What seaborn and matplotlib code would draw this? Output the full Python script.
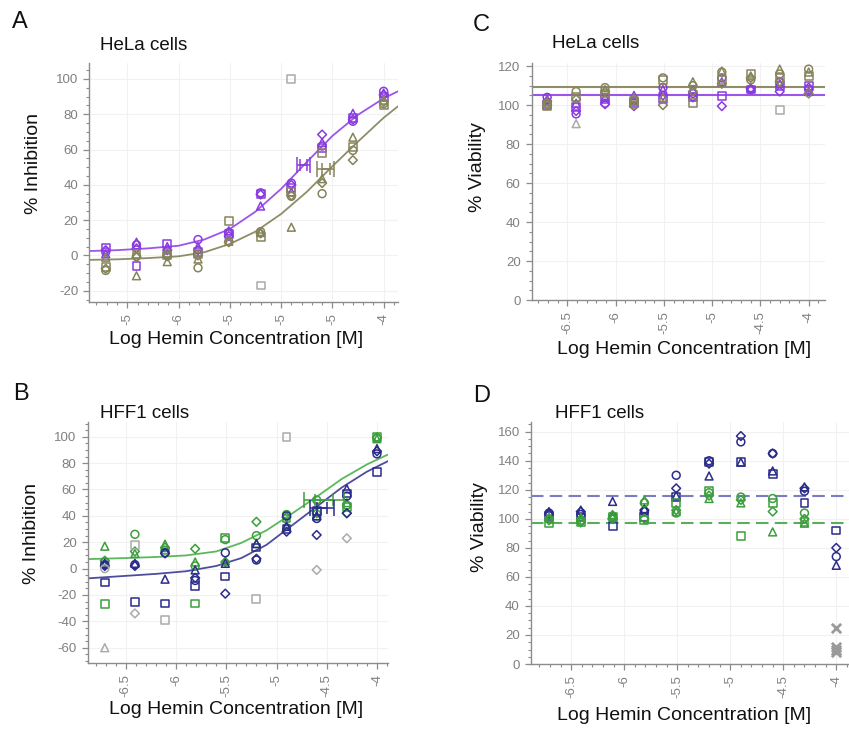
import numpy as np
import seaborn as sns
import matplotlib.pyplot as plt
from matplotlib.ticker import AutoMinorLocator

nan = np.nan

# log10 hemin concentration (2-fold dilution, 100 uM top)
conc = [-6.71, -6.41, -6.11, -5.81, -5.51, -5.20, -4.90, -4.60, -4.30, -4.00]
rep_markers = ["o", "s", "D", "^"]

# ---- A: HeLa % inhibition ----
a_pur_o = [2, 6, 0, 9, 13, 35.5, 41, 62, 76, 93]
a_pur_s = [4.5, -6, 6.5, 2, 12, 35, 38, 61, 78, 90]
a_pur_d = [3, 4, 3, 3, 11, 34.5, 40, 68.5, 77, 91]
a_pur_t = [1, 7.5, 5, 5, 14, 28, 36, 64, 80.5, 92]
a_oli_o = [-8.5, -0.5, 1, -7, 8, 13.5, 33.5, 35, 59.5, 86]
a_oli_s = [-6.5, 1, 0, 1, 19.5, 10.5, 36, 58, 61.5, 85]
a_oli_d = [-7.5, -1, -0.5, 0, 7.5, 12.5, 34, 41, 54, 87]
a_oli_t = [-1, -11.5, -3.5, -2, 8, 13, 16, 43.5, 67, 88]
a_out_x = [-5.20, -4.90]
a_out_y = [-17, 100]
a_out_m = ["s", "s"]
a_curve_x = [-6.87, -6.6, -6.3, -6.0, -5.75, -5.5, -5.25, -5.0, -4.75, -4.5, -4.25, -4.0, -3.86]
a_curve_pur = [2.5, 3.0, 4.0, 5.5, 9.0, 15.0, 24.8, 37.7, 52.9, 67.7, 79.7, 89.0, 93.0]
a_curve_oli = [-2.5, -2.2, -1.5, -0.5, 1.8, 6.5, 13.5, 23.5, 36, 50.5, 64.5, 78, 84.5]
a_ic50_pur = (-4.78, 51)
a_ic50_oli = (-4.565, 49)
a_xticklabels = ["-5", "-6", "-5", "-5", "-5", "-4"]

# ---- C: HeLa % viability ----
c_pur_o = [104, 95.5, 101, 102, 109, 106, 114, 108, 112, 108]
c_pur_s = [100, 99, 103, 101, 103, 104, 104.5, 108, 110, 110]
c_pur_d = [102, 97, 100.5, 99.5, 105, 104, 99.5, 108.5, 107, 109]
c_pur_t = [103, 101, 104, 105, 108, 108, 112, 109, 111, 107]
c_oli_o = [101, 107, 109, 100, 114, 110, 117, 113, 116, 118.5]
c_oli_s = [99.5, 104, 106, 102, 113, 101, 113, 116, 114, 115]
c_oli_d = [100, 103, 107, 103, 100, 107, 111, 114, 112, 106]
c_oli_t = [102, nan, 108, 104, 104, 112, 117.5, 115, 118.5, 117]
c_out_x = [-6.41, -4.30]
c_out_y = [90.5, 97.5]
c_out_m = ["^", "s"]
c_mean_pur = 105.4
c_mean_oli = 109.4

# ---- B: HFF1 % inhibition ----
b_grn_o = [5, 26, 14, 2, 22, 25, 41, 52, 48, 99]
b_grn_s = [-27, nan, nan, -26.5, 23, nan, 38, 43, 47, 100]
b_grn_d = [6, 13, 16, 15, 5, 35.5, 39, 42, 42, 99.5]
b_grn_t = [17, 11.5, 18.5, 5, 6, 19, 33, 40, 50, 98.5]
b_nav_o = [3, 3, 12, -9, 12, 6.5, 40, 38, 55, 87]
b_nav_s = [-10.5, -25, -26.5, -13, -6, 16, 30, 44, 57, 73]
b_nav_d = [2, 2, 11.5, -7, -19, 7.5, 28, 25.5, 42, 89]
b_nav_t = [4, 4, -8, -1, 4, 19, 32, 40, 60.5, 91]
b_out_x = [-6.71, -6.71, -6.41, -6.41, -6.11, -5.20, -4.90, -4.60, -4.30]
b_out_y = [0, -60, 18, -34, -39, -23, 100, -1, 23]
b_out_m = ["o", "^", "s", "D", "s", "s", "s", "D", "D"]
b_curve_x = [-6.88, -6.5, -6.2, -5.9, -5.6, -5.35, -5.1, -4.85, -4.6, -4.35, -4.1, -3.89]
b_curve_grn = [7.2, 8.0, 8.8, 10.0, 13.0, 19.5, 29.0, 41.5, 54.5, 68.0, 79.0, 86.5]
b_curve_nav = [-7.4, -5.5, -4.0, -2.0, 2.0, 8.0, 18.0, 32.5, 47.0, 61.5, 73.5, 81.5]
b_ic50_grn = (-4.53, 52)
b_ic50_nav = (-4.545, 45.6)

# ---- D: HFF1 % viability ----
d_nav_o = [104, 103, 101, 105, 130, 140, 153, 145, 119, 74]
d_nav_s = [102, 101, 95, 101, 115, 139, 139, 131, 111, 92]
d_nav_d = [103, 105, 100, 106, 121, 138, 157, 145, 121, 80]
d_nav_t = [105, 106, 112, 107, 116, 129.5, 139, 133, 122, 68]
d_grn_o = [100, 99, 102, 111, 104, 118, 115, 114, 104, nan]
d_grn_s = [97, 98, 101, 99, 111, 119, 88, 111, 98, nan]
d_grn_d = [99, 97.5, 100, 100, 106, 116, 113, 105, 100, nan]
d_grn_t = [101, 101, 103, 113, 105, 114, 111, 91, 97, nan]
d_out_x = [-4.0, -4.0, -4.0, -4.0]
d_out_y = [25, 12, 10, 8]
d_mean_nav = 115.5
d_mean_grn = 96.8

xticks = [-6.5, -6, -5.5, -5, -4.5, -4]
xticklabels = ["-6.5", "-6", "-5.5", "-5", "-4.5", "-4"]

PUR = "#8a3be0"
OLI = "#85845a"
NAV = "#2b2b8c"
GRN = "#3c9e3c"
GRY = "#aaaaaa"

sns.set_style("white")
plt.rcParams["font.family"] = ["Liberation Sans", "DejaVu Sans"]
plt.rcParams["axes.unicode_minus"] = False

fig = plt.figure(figsize=(8.49, 7.33), dpi=100)
axA = fig.add_axes([0.1052, 0.5884, 0.3636, 0.3256])
axC = fig.add_axes([0.6263, 0.5907, 0.3455, 0.3230])
axB = fig.add_axes([0.1033, 0.0951, 0.3537, 0.3296])
axD = fig.add_axes([0.6254, 0.0941, 0.3746, 0.3306])


def reps(ax, series, color):
    for vals, m in zip(series, rep_markers):
        s = 20 if m == "D" else 32
        sns.scatterplot(x=conc, y=vals, marker=m, s=s, facecolor="none",
                        edgecolor=color, linewidth=1.1, ax=ax, legend=False, zorder=3)


def outliers(ax, xs, ys, ms):
    for x, y, m in zip(xs, ys, ms):
        s = 20 if m == "D" else 32
        sns.scatterplot(x=[x], y=[y], marker=m, s=s, facecolor="none",
                        edgecolor=GRY, linewidth=1.1, ax=ax, legend=False, zorder=3)


def ic50(ax, pt, outer, inner, color):
    ax.errorbar(pt[0], pt[1], xerr=outer, color=color, capsize=6, lw=1.1, capthick=1.1, zorder=4)
    ax.errorbar(pt[0], pt[1], xerr=inner, color=color, capsize=4, lw=1.1, capthick=1.1, zorder=4)


def style(ax, xlim, ylim, yticks, xlabels):
    ax.set_xlim(*xlim)
    ax.set_ylim(*ylim)
    ax.set_xticks(xticks)
    ax.set_xticklabels(xlabels, rotation=90)
    ax.set_yticks(yticks)
    ax.xaxis.set_minor_locator(AutoMinorLocator(5))
    ax.yaxis.set_minor_locator(AutoMinorLocator(4))
    ax.grid(True, which="major", color="#f1f1f1", lw=0.8, zorder=0)
    ax.set_axisbelow(True)
    for side in ["top", "right"]:
        ax.spines[side].set_visible(False)
    for side in ["left", "bottom"]:
        ax.spines[side].set_color("#8c8c8c")
        ax.spines[side].set_linewidth(1.0)
    ax.tick_params(which="major", direction="out", length=4, width=0.9,
                   color="#8c8c8c", labelcolor="#808080", labelsize=9.5, pad=4)
    ax.tick_params(which="minor", direction="out", length=2.5, width=0.8, color="#8c8c8c")
    ax.tick_params(axis="x", which="both", bottom=True)
    ax.tick_params(axis="y", which="both", left=True)
    ax.set_xlabel("")
    ax.set_ylabel("")


# A
reps(axA, [a_pur_o, a_pur_s, a_pur_d, a_pur_t], PUR)
reps(axA, [a_oli_o, a_oli_s, a_oli_d, a_oli_t], OLI)
outliers(axA, a_out_x, a_out_y, a_out_m)
sns.lineplot(x=a_curve_x, y=a_curve_pur, color="#9b55ea", lw=1.3, ax=axA, zorder=2)
sns.lineplot(x=a_curve_x, y=a_curve_oli, color="#8f8d68", lw=1.3, ax=axA, zorder=2)
ic50(axA, a_ic50_pur, 0.065, 0.032, PUR)
ic50(axA, a_ic50_oli, 0.085, 0.04, OLI)
style(axA, (-6.87, -3.86), (-26.2, 109), range(-20, 101, 20), a_xticklabels)

# C
reps(axC, [c_pur_o, c_pur_s, c_pur_d, c_pur_t], PUR)
reps(axC, [c_oli_o, c_oli_s, c_oli_d, c_oli_t], OLI)
outliers(axC, c_out_x, c_out_y, c_out_m)
axC.axhline(c_mean_oli, color="#8f8d68", lw=1.5, zorder=2)
axC.axhline(c_mean_pur, color="#9b55ea", lw=1.5, zorder=2)
style(axC, (-6.87, -3.83), (0, 121.5), range(0, 121, 20), xticklabels)

# B
reps(axB, [b_grn_o, b_grn_s, b_grn_d, b_grn_t], GRN)
reps(axB, [b_nav_o, b_nav_s, b_nav_d, b_nav_t], NAV)
outliers(axB, b_out_x, b_out_y, b_out_m)
sns.lineplot(x=b_curve_x, y=b_curve_grn, color="#5cb85c", lw=1.3, ax=axB, zorder=2)
sns.lineplot(x=b_curve_x, y=b_curve_nav, color="#4d4d9e", lw=1.3, ax=axB, zorder=2)
ic50(axB, b_ic50_grn, 0.2, 0.09, GRN)
ic50(axB, b_ic50_nav, 0.12, 0.05, NAV)
style(axB, (-6.88, -3.89), (-71.8, 111.4), range(-60, 101, 20), xticklabels)

# D
reps(axD, [d_nav_o, d_nav_s, d_nav_d, d_nav_t], NAV)
reps(axD, [d_grn_o, d_grn_s, d_grn_d, d_grn_t], GRN)
sns.scatterplot(x=d_out_x, y=d_out_y, marker="x", s=45, color="#9a9a9a",
                linewidth=2.0, ax=axD, legend=False, zorder=3)
axD.axhline(d_mean_nav, color="#7b7bc6", lw=1.5, ls=(0, (6, 3)), zorder=2)
axD.axhline(d_mean_grn, color="#5aae5a", lw=1.5, ls=(0, (6, 3)), zorder=2)
style(axD, (-6.88, -3.88), (0, 166.9), range(0, 161, 20), xticklabels)

# panel letters, titles, axis labels
for txt, x, y in [("A", 12, 21.5), ("C", 473, 25), ("B", 13, 394), ("D", 473, 396)]:
    fig.text(x / 849, 1 - y / 733, txt, fontsize=17, ha="left", va="center", color="#111111")
for txt, x, y in [("HeLa cells", 100, 45), ("HeLa cells", 552, 43),
                  ("HFF1 cells", 100, 413), ("HFF1 cells", 555, 413)]:
    fig.text(x / 849, 1 - y / 733, txt, fontsize=13.5, ha="left", va="center", color="#111111")
for x, y in [(236, 339), (684, 349), (236, 709), (684, 715)]:
    fig.text(x / 849, 1 - y / 733, "Log Hemin Concentration [M]", fontsize=14,
             ha="center", va="center", color="#111111")
for txt, x, y in [("% Inhibition", 34, 164), ("% Viability", 478, 167.5),
                  ("% Inhibition", 32, 533), ("% Viability", 479, 527.5)]:
    fig.text(x / 849, 1 - y / 733, txt, fontsize=14, rotation=90,
             ha="center", va="center", color="#111111")

fig.savefig("out.png", dpi=100, facecolor="white")
